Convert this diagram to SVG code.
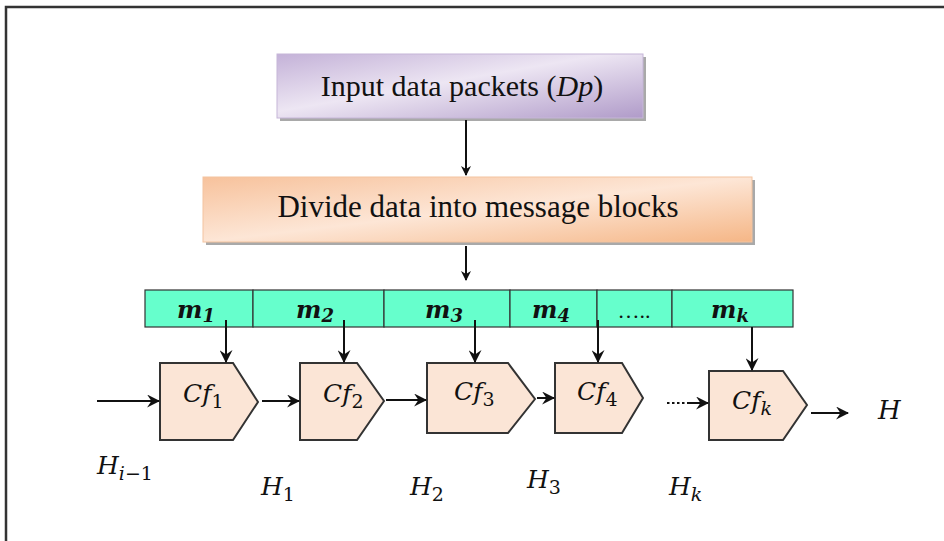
<svg xmlns="http://www.w3.org/2000/svg" width="944" height="541" viewBox="0 0 944 541">
<defs>
<linearGradient id="gPurple" x1="0" y1="0" x2="1" y2="1">
<stop offset="0" stop-color="#c4b2d8"/>
<stop offset="0.45" stop-color="#ede6f3"/>
<stop offset="1" stop-color="#b09bc9"/>
</linearGradient>
<linearGradient id="gOrange" x1="0" y1="0" x2="1" y2="1">
<stop offset="0" stop-color="#f7c29c"/>
<stop offset="0.5" stop-color="#fde6d6"/>
<stop offset="1" stop-color="#f5b686"/>
</linearGradient>
<marker id="ah" viewBox="0 0 10 10" refX="9" refY="5" markerWidth="10" markerHeight="10" markerUnits="userSpaceOnUse" orient="auto">
<path d="M0,0 L10,5 L0,10 L3,5 Z" fill="#111"/>
</marker>
<marker id="ah2" viewBox="0 0 12 12" refX="11" refY="6" markerWidth="13" markerHeight="13" markerUnits="userSpaceOnUse" orient="auto">
<path d="M0,0 L12,6 L0,12 L4,6 Z" fill="#111"/>
</marker>
</defs>
<style>
.t{font-family:"Liberation Serif","Times New Roman",serif;fill:#111}
.m{font-family:"DejaVu Serif","Liberation Serif",serif;font-style:italic;fill:#111}
.mb{font-family:"DejaVu Serif","Liberation Serif",serif;font-style:italic;font-weight:bold;fill:#111}
.pent{fill:#fbe5d6;stroke:#333;stroke-width:2}
.cell{fill:#66ffcc;stroke:#333;stroke-width:1.2}
.ln{stroke:#111;stroke-width:2;fill:none}
</style>
<rect width="944" height="541" fill="#fff"/>
<path d="M6,541 V7 H944" fill="none" stroke="#333" stroke-width="2.5"/>

<g id="input">
<rect x="280" y="57" width="366" height="64" fill="#a9a9a9"/>
<rect x="277" y="54" width="366" height="64" fill="url(#gPurple)" stroke="#c6b6d8" stroke-width="1"/>
<text class="t" x="462" y="96" font-size="30" text-anchor="middle">Input data packets (<tspan font-style="italic">Dp</tspan>)</text>
</g>

<g id="divide">
<rect x="206" y="180" width="549" height="65" fill="#a9a9a9"/>
<rect x="203" y="177" width="549" height="65" fill="url(#gOrange)" stroke="#f3c4a0" stroke-width="1"/>
<text class="t" x="478" y="217" font-size="31" text-anchor="middle">Divide data into message blocks</text>
</g>

<g id="blocks">
<rect class="cell" x="145" y="290" width="108" height="37"/>
<rect class="cell" x="253" y="290" width="131" height="37"/>
<rect class="cell" x="384" y="290" width="126" height="37"/>
<rect class="cell" x="510" y="290" width="87" height="37"/>
<rect class="cell" x="597" y="290" width="75" height="37"/>
<rect class="cell" x="672" y="290" width="121" height="37"/>
<text class="mb" x="177" y="318" font-size="24">m<tspan font-size="18" dy="4">1</tspan></text>
<text class="mb" x="296" y="318" font-size="24">m<tspan font-size="18" dy="4">2</tspan></text>
<text class="mb" x="425" y="318" font-size="24">m<tspan font-size="18" dy="4">3</tspan></text>
<text class="mb" x="532" y="318" font-size="24">m<tspan font-size="18" dy="4">4</tspan></text>
<text class="t" x="634" y="318" font-size="22" text-anchor="middle">…..</text>
<text class="mb" x="711" y="318" font-size="24">m<tspan font-size="18" dy="4">k</tspan></text>
</g>

<g id="cf1">
<path class="pent" d="M160,363 H233 L258,402 L233,440 H160 Z"/>
<text class="m" x="183" y="402" font-size="25">Cf<tspan font-style="normal" font-size="19" dy="6">1</tspan></text>
</g>
<g id="cf2">
<path class="pent" d="M300,363 H357 L384,401 L357,440 H300 Z"/>
<text class="m" x="323" y="402" font-size="25">Cf<tspan font-style="normal" font-size="19" dy="6">2</tspan></text>
</g>
<g id="cf3">
<path class="pent" d="M427,363 H508 L535,399 L508,433 H427 Z"/>
<text class="m" x="454" y="400" font-size="25">Cf<tspan font-style="normal" font-size="19" dy="6">3</tspan></text>
</g>
<g id="cf4">
<path class="pent" d="M555,363 H622 L643,398 L622,433 H555 Z"/>
<text class="m" x="577" y="400" font-size="25">Cf<tspan font-style="normal" font-size="19" dy="6">4</tspan></text>
</g>
<g id="cfk">
<path class="pent" d="M709,371 H783 L807,405 L783,440 H709 Z"/>
<text class="m" x="732" y="409" font-size="25">Cf<tspan font-size="19" dy="6">k</tspan></text>
</g>

<g id="connectors">
<line class="ln" x1="466" y1="120" x2="466" y2="175" marker-end="url(#ah)"/>
<line class="ln" x1="466" y1="246" x2="466" y2="280" marker-end="url(#ah)"/>
<line class="ln" x1="226" y1="320" x2="226" y2="362" marker-end="url(#ah2)"/>
<line class="ln" x1="344" y1="320" x2="344" y2="362" marker-end="url(#ah2)"/>
<line class="ln" x1="475" y1="320" x2="475" y2="362" marker-end="url(#ah2)"/>
<line class="ln" x1="598" y1="320" x2="598" y2="362" marker-end="url(#ah2)"/>
<line class="ln" x1="752" y1="327" x2="752" y2="370" marker-end="url(#ah2)"/>
<line class="ln" x1="97" y1="401" x2="159" y2="401" marker-end="url(#ah2)"/>
<line class="ln" x1="262" y1="401" x2="299" y2="401" marker-end="url(#ah2)"/>
<line class="ln" x1="386" y1="400" x2="426" y2="400" marker-end="url(#ah2)"/>
<line class="ln" x1="537" y1="398" x2="554" y2="398" marker-end="url(#ah2)"/>
<line class="ln" x1="667" y1="403" x2="686" y2="403" stroke-dasharray="2.5,2.5"/>
<line class="ln" x1="687" y1="403" x2="708" y2="403" marker-end="url(#ah2)"/>
<line class="ln" x1="811" y1="413" x2="848" y2="413" marker-end="url(#ah2)"/>
</g>

<g id="labels">
<text class="m" x="878" y="419" font-size="26">H</text>
<text class="m" x="97" y="474" font-size="25">H<tspan font-size="19" dy="6">i</tspan><tspan font-style="normal" font-size="19">−1</tspan></text>
<text class="m" x="261" y="495" font-size="25">H<tspan font-style="normal" font-size="19" dy="6">1</tspan></text>
<text class="m" x="410" y="495" font-size="25">H<tspan font-style="normal" font-size="19" dy="6">2</tspan></text>
<text class="m" x="527" y="488" font-size="25">H<tspan font-style="normal" font-size="19" dy="6">3</tspan></text>
<text class="m" x="669" y="495" font-size="25">H<tspan font-size="19" dy="6">k</tspan></text>
</g>
</svg>
